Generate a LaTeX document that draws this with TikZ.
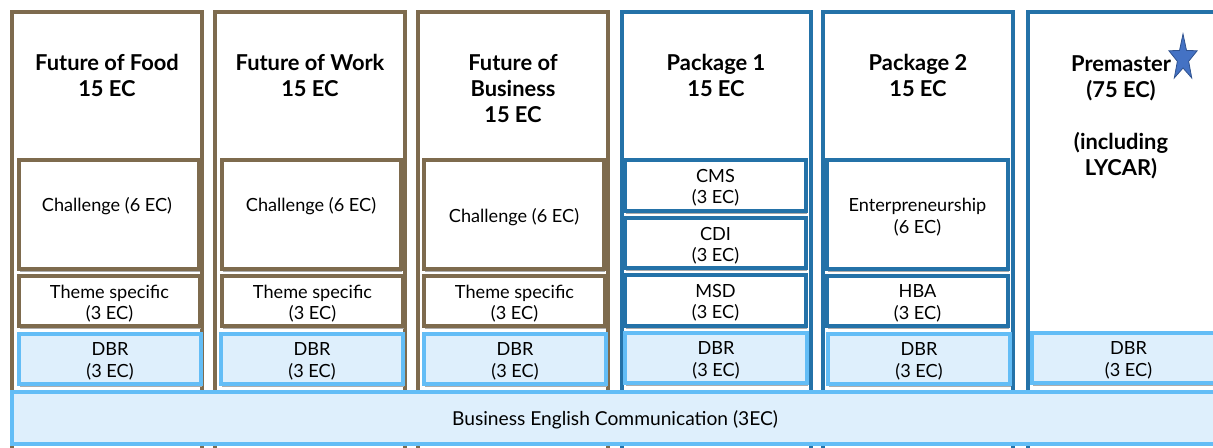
\documentclass[tikz,border=0pt]{standalone}
\usepackage{fontspec}
\setmainfont{Lato}
\usetikzlibrary{shapes.geometric}
\definecolor{brownc}{HTML}{7E6B4E}
\definecolor{bluec}{HTML}{2472A8}
\definecolor{lightb}{HTML}{63BDF6}
\definecolor{fillb}{HTML}{DEEFFC}
\definecolor{starc}{HTML}{4472C4}
\definecolor{stard}{HTML}{2F528F}
% box drawn from pixel corners, text in a second node shifted slightly down
\newcommand\bx[7]{\node[#6, minimum width={(#4-#2)*0.75pt}, minimum height={(#5-#3)*0.75pt}] (#1) at ({(#2+#4)/2},{(#3+#5)/2}) {};
  \node[txt] (#1-t) at ({(#2+#4)/2},{(#3+#5)/2+2.5}) {#7};}
\newcommand\sbx[7]{\fill[shade] ({#2+0.5},{#3+3}) rectangle ({#4+0.5},{#5+3});\bx{#1}{#2}{#3}{#4}{#5}{#6}{#7}}
\tikzset{
  shade/.style={black!32},
  colb/.style={draw=brownc, line width=2.4pt, inner sep=0pt},
  colu/.style={draw=bluec, line width=2.4pt, inner sep=0pt},
  inb/.style={draw=brownc, line width=2.3pt, fill=white, inner sep=0pt},
  inu/.style={draw=bluec, line width=2.3pt, fill=white, inner sep=0pt},
  dbr/.style={draw=lightb, line width=2.3pt, fill=fillb, inner sep=0pt},
  bar/.style={draw=lightb, line width=2.4pt, fill=fillb, inner sep=0pt},
  ttl/.style={align=center, font=\titlefont, inner sep=0pt},
  txt/.style={align=center, font=\bodyfont, inner sep=0pt},
}
\newcommand\bodyfont{\fontsize{13.6}{16.1}\selectfont}
\newcommand\titlefont{\fontsize{16.4}{19.5}\selectfont\bfseries}
\begin{document}
\begin{tikzpicture}[x=0.75pt,y=-0.75pt]
\useasboundingbox (0,0) rectangle (1213,448);
% columns
\bx{c1}{12}{12}{202}{470}{colb}{}
\bx{c2}{215}{12}{405}{470}{colb}{}
\bx{c3}{418}{12}{608}{470}{colb}{}
\bx{c4}{622}{12}{811}{470}{colu}{}
\bx{c5}{823}{12}{1013}{470}{colu}{}
\bx{c6}{1028}{12}{1230}{470}{colu}{}
% titles
\node[ttl] (t1) at (107,75.5) {Future of Food\\15 EC};
\node[ttl] (t2) at (310,75.5) {Future of Work\\15 EC};
\node[ttl] (t3) at (513,88.5) {Future of\\Business\\15 EC};
\node[ttl] (t4) at (716,75.5) {Package 1\\15 EC};
\node[ttl] (t5) at (918,75.5) {Package 2\\15 EC};
\node[ttl] (t6) at (1121,117) {Premaster\\(75 EC)\\\mbox{}\\(including\\LYCAR)};
\node[star, star points=5, star point ratio=2.5, fill=starc, draw=stard, line width=0.6pt,
  minimum size=36.5pt, inner sep=0pt, xscale=0.61] (st) at (1183,58.3) {};
% column 1
\sbx{ch1}{19}{160}{199}{269}{inb}{}
\node[txt] (ch1t) at (107,206) {Challenge (6 EC)};
\sbx{th1}{19}{276}{200}{326}{inb}{Theme specific\\(3 EC)}
% column 2
\sbx{ch2}{222}{160}{401}{269}{inb}{}
\node[txt] (ch2t) at (311,206) {Challenge (6 EC)};
\sbx{th2}{222}{276}{403}{326}{inb}{Theme specific\\(3 EC)}
% column 3
\sbx{ch3}{424}{160}{604}{269}{inb}{Challenge (6 EC)}
\sbx{th3}{424}{276}{605}{326}{inb}{Theme specific\\(3 EC)}
% column 4
\sbx{cms}{625}{160}{806}{211}{inu}{CMS\\(3 EC)}
\sbx{cdi}{625}{218}{806}{268}{inu}{CDI\\(3 EC)}
\sbx{msd}{625}{275}{806}{326}{inu}{MSD\\(3 EC)}
% column 5
\sbx{ent}{827}{160}{1008}{269}{inu}{Enterpreneurship\\(6 EC)}
\sbx{hba}{827}{276}{1008}{326}{inu}{HBA\\(3 EC)}
% DBR
\sbx{d1}{19}{334}{201}{384}{dbr}{DBR\\(3 EC)}
\sbx{d2}{221}{334}{403}{384}{dbr}{DBR\\(3 EC)}
\sbx{d3}{424}{334}{606}{384}{dbr}{DBR\\(3 EC)}
\sbx{d4}{625}{333}{807}{383}{dbr}{DBR\\(3 EC)}
\sbx{d5}{828}{334}{1010}{384}{dbr}{DBR\\(3 EC)}
\sbx{d6}{1032}{333}{1225}{383}{dbr}{DBR\\(3 EC)}
% bottom bar
\node[bar, minimum width={1213*0.75pt}, minimum height={52*0.75pt}] (bar) at (618.5,418) {};
\node[font=\fontsize{14.4}{16}\selectfont, inner sep=0pt] (bt) at (615,420) {Business English Communication (3EC)};
\end{tikzpicture}
\end{document}
